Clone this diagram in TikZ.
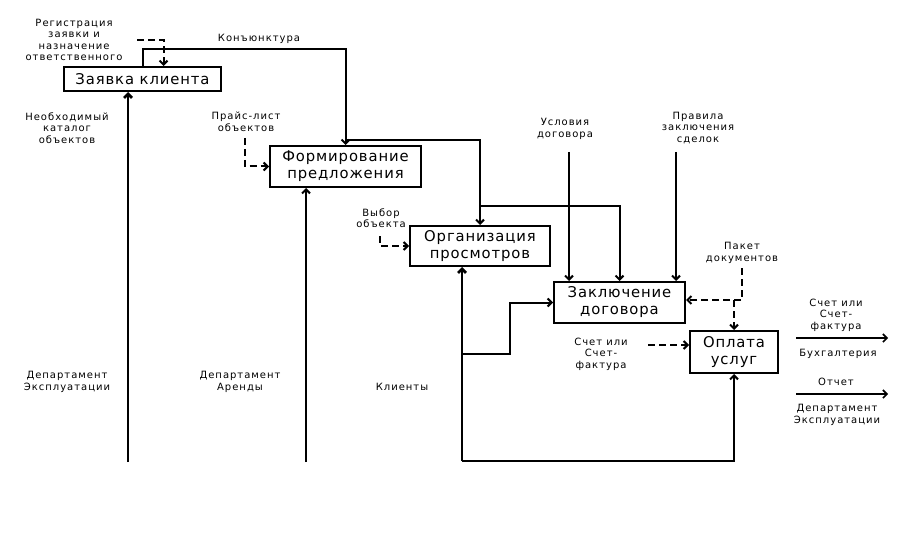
\documentclass[tikz,border=0pt]{standalone}
\usepackage{fontspec}
\setmainfont{DejaVu Sans}
\newfontfamily\lblfont[LetterSpace=10]{DejaVu Sans}
\newfontfamily\boxfont[LetterSpace=6]{DejaVu Sans}
\usetikzlibrary{arrows.meta}

\begin{document}
\begin{tikzpicture}[x=1pt, y=-1pt, >={Straight Barb[length=4pt, width=8pt]}] %one unit is one pixel, y grows downwards
\tikzstyle{every node} = [align=center, inner sep=0pt, font=\lblfont\fontsize{10}{11.5}\selectfont]
\tikzstyle{box} = [draw, line width=2pt, font=\boxfont\fontsize{14.8}{17}\selectfont]
\tikzstyle{flow} = [->, line width=2pt]
\tikzstyle{heavy} = [->, line width=2.8pt]
\tikzstyle{ctrl} = [->, line width=2pt, dash pattern=on 7pt off 4pt]
\tikzstyle{result} = [->, line width=1.6pt]
\useasboundingbox (0,0) rectangle (909,540);

% functions
\node[box, minimum width=157, minimum height=24] (zk) at (142.5, 79) {Заявка клиента};
\node[box, minimum width=151, minimum height=41] (fp) at (345.5, 166.5) {Формирование\\предложения};
\node[box, minimum width=140, minimum height=40] (op) at (480, 246) {Организация\\просмотров};
\node[box, minimum width=131, minimum height=41] (zd) at (619.5, 302.5) {Заключение\\договора};
\node[box, minimum width=88, minimum height=42] (ou) at (734, 352) {Оплата\\услуг};

% free ends
\coordinate (in1) at (128, 462);
\coordinate (in2) at (306, 462);
\coordinate (in3) at (462, 461);
\coordinate (c1) at (569, 152);
\coordinate (c2) at (676, 152);
\coordinate (c3) at (742, 268);
\coordinate (c3j) at (734, 300);
\coordinate (c4) at (137, 40);
\coordinate (c5) at (245, 138);
\coordinate (c6) at (380, 236);
\coordinate (c7) at (648, 345);
\coordinate (o1s) at (796, 338);
\coordinate (o1e) at (888, 338);
\coordinate (o2s) at (796, 394);
\coordinate (o2e) at (888, 394);

% labels
\node (lreg) at (74, 40) {Регистрация\\заявки и\\назначение\\ответственного};
\node (lkon) at (259, 39) {Конъюнктура};
\node (lkat) at (67, 128) {Необходимый\\каталог\\объектов};
\node (lpr) at (246, 122) {Прайс-лист\\объектов};
\node (lusl) at (565, 129) {Условия\\договора};
\node (lprav) at (698, 128) {Правила\\заключения\\сделок};
\node (lvyb) at (381, 218) {Выбор\\объекта};
\node (lpak) at (742, 253) {Пакет\\документов};
\node (lsch) at (601, 354) {Счет или\\Счет-\\фактура};
\node (lsch2) at (836, 315) {Счет или\\Счет-\\фактура};
\node (lbuh) at (838, 354) {Бухгалтерия};
\node (lotch) at (836, 382) {Отчет};
\node (lde2) at (837, 415) {Департамент\\Эксплуатации};
\node (lde) at (67, 382) {Департамент\\Эксплуатации};
\node (lda) at (240, 382) {Департамент\\Аренды};
\node (lkl) at (402, 387) {Клиенты};

% mechanisms and inputs from below
\draw[heavy] (in1) -- (in1 |- zk.south);
\draw[flow] (in2) -- (in2 |- fp.south);
\draw[heavy] (in3) -- (in3 |- op.south);
\draw[flow] (in3 |- 0,354) -- (510, 354) |- (zd.west);
\draw[flow] (in3) -| (ou.south);

% links between functions
\draw[flow] (zk.north) -- ++(0,-17) -| (fp.north);
\draw[flow] ([yshift=5pt]fp.north) -| (op.north);
\draw[flow] ([yshift=19pt]op.north) -| (zd.north);

% controls
\draw[flow] (c1) -- (c1 |- zd.north);
\draw[flow] (c2) -- (c2 |- zd.north);
\draw[ctrl] (c3) |- ([yshift=2.5pt]zd.east);
\draw[ctrl] (c3j) -- (ou.north);
\draw[ctrl] (c4) -| ([xshift=21pt]zk.north);
\draw[ctrl] (c5) |- (fp.west);
\draw[ctrl] (c6) |- (op.west);
\draw[ctrl] (c7) -- (c7 -| ou.west);

% outputs
\draw[result] (o1s) -- (o1e);
\draw[result] (o2s) -- (o2e);
\end{tikzpicture}
\end{document}
